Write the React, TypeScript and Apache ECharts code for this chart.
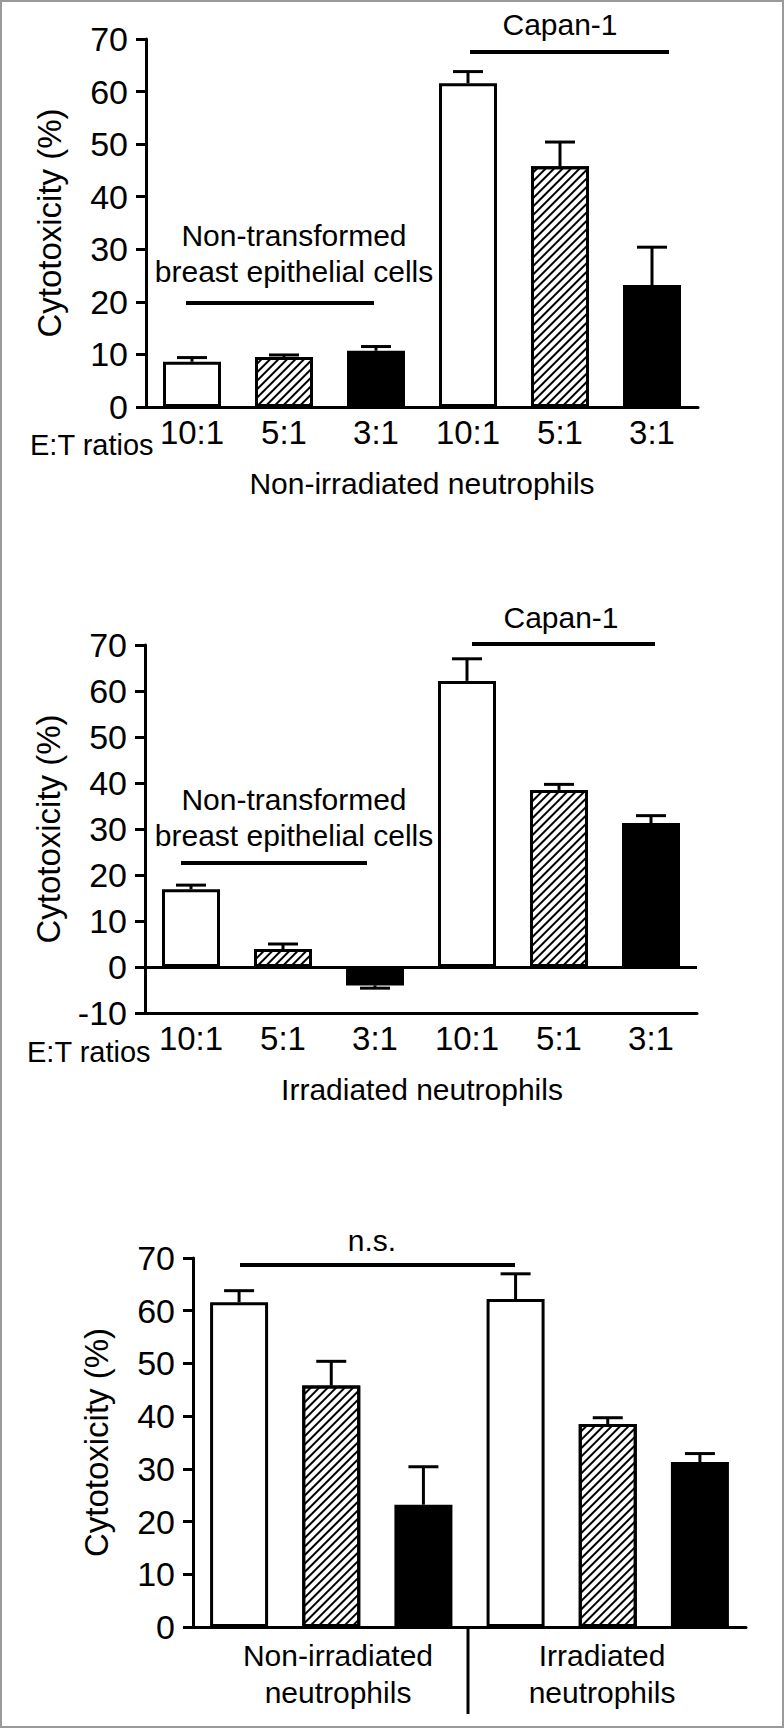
import React, { useEffect, useRef } from "react";
import * as echarts from "echarts";

const FONT = '"Liberation Sans", Arial, Helvetica, sans-serif';

// E:T ratio tick labels for the top two panels
const ET_LABELS = ["10:1", "5:1", "3:1", "10:1", "5:1", "3:1"];
// bar fill style per position
const FILLS = ["white", "hatch", "black", "white", "hatch", "black"];

// Panel A: non-irradiated neutrophils (first three: breast epithelial cells, last three: Capan-1)
const NON_IRR_MEAN = [8.6, 9.5, 10.7, 61.6, 45.8, 23.2];
const NON_IRR_ERR = [0.8, 0.4, 0.8, 2.2, 4.6, 7.2];

// Panel B: irradiated neutrophils
const IRR_MEAN = [16.9, 3.9, -4.0, 62.2, 38.5, 31.3];
const IRR_ERR = [0.9, 1.1, 0.6, 4.8, 1.2, 1.6];

// Panel C: Capan-1 only, non-irradiated vs irradiated
const C_MEAN = [...NON_IRR_MEAN.slice(3), ...IRR_MEAN.slice(3)];
const C_ERR = [...NON_IRR_ERR.slice(3), ...IRR_ERR.slice(3)];

// axis ranges
const Y_MIN = [0, -10, 0];
const Y_MAX = [70, 70, 70];
const Y_STEP = 10;

const Y_NAME = "Cytotoxicity (%)";

function fillStyle(kind: string) {
  const base: any = { borderColor: "#000", borderWidth: 3 };
  if (kind === "black") return { ...base, color: "#000" };
  if (kind === "hatch")
    return {
      ...base,
      color: "#fff",
      decal: {
        symbol: "rect",
        symbolSize: 1,
        color: "#000",
        backgroundColor: "#fff",
        dashArrayX: [1, 0],
        dashArrayY: [1.4, 3.2],
        rotation: -Math.PI / 4,
      },
    };
  return { ...base, color: "#fff" };
}

function barData(means: number[]) {
  return means.map((v, i) => ({ value: v, itemStyle: fillStyle(FILLS[i]) }));
}

function errData(means: number[], errs: number[]) {
  return means.map((m, i) => [i, m, errs[i]]);
}

function renderErr(params: any, api: any) {
  const i = api.value(0);
  const m = api.value(1);
  const e = api.value(2);
  const dir = m < 0 ? -1 : 1;
  const p0 = api.coord([i, m]);
  const p1 = api.coord([i, m + dir * e]);
  const hw = 15;
  return {
    type: "group",
    children: [
      {
        type: "line",
        shape: { x1: p0[0], y1: p0[1], x2: p1[0], y2: p1[1] },
        style: { stroke: "#000", lineWidth: 3 },
      },
      {
        type: "line",
        shape: { x1: p1[0] - hw, y1: p1[1], x2: p1[0] + hw, y2: p1[1] },
        style: { stroke: "#000", lineWidth: 3 },
      },
    ],
  };
}

function txt(x: number, y: number, s: string, align = "center", size = 30) {
  return {
    type: "text",
    x,
    y,
    style: {
      text: s,
      fontSize: size,
      fontFamily: FONT,
      fill: "#000",
      align,
      verticalAlign: "middle",
      textAlign: align,
      textVerticalAlign: "middle",
    },
  };
}

function hline(x1: number, x2: number, y: number, w = 4) {
  return {
    type: "line",
    shape: { x1, y1: y, x2, y2: y },
    style: { stroke: "#000", lineWidth: w },
  };
}

export default function App() {
  const ref = useRef<HTMLDivElement>(null);

  useEffect(() => {
    document.body.style.margin = "0";
    const chart = echarts.init(ref.current!, null, { renderer: "svg" });

    const grids = [
      { left: 146, top: 39, width: 552, height: 368 },
      { left: 145, top: 645, width: 552, height: 368 },
      { left: 193, top: 1258, width: 553, height: 369 },
    ];

    const xAxes = [0, 1, 2].map((g) => ({
      type: "category",
      gridIndex: g,
      data: [0, 1, 2, 3, 4, 5].map(String),
      boundaryGap: true,
      axisLine: { onZero: false, lineStyle: { color: "#000", width: 3 } },
      axisTick: { show: false },
      axisLabel: {
        show: g < 2,
        interval: 0,
        margin: 9,
        fontSize: 33,
        color: "#000",
        fontFamily: FONT,
        formatter: (_v: string, idx: number) => ET_LABELS[idx],
      },
      splitLine: { show: false },
    }));

    const yAxes = [0, 1, 2].map((g) => ({
      type: "value",
      gridIndex: g,
      min: Y_MIN[g],
      max: Y_MAX[g],
      interval: Y_STEP,
      name: Y_NAME,
      nameLocation: "middle",
      nameGap: 80,
      nameTextStyle: { fontSize: 33, color: "#000", fontFamily: FONT },
      axisLine: { show: true, lineStyle: { color: "#000", width: 3 } },
      axisTick: { show: true, length: 10, lineStyle: { color: "#000", width: 3 } },
      axisLabel: { fontSize: 34, color: "#000", fontFamily: FONT, margin: 18 },
      splitLine: { show: false },
    }));

    const panels = [
      { means: NON_IRR_MEAN, errs: NON_IRR_ERR },
      { means: IRR_MEAN, errs: IRR_ERR },
      { means: C_MEAN, errs: C_ERR },
    ];

    const series: any[] = [];
    panels.forEach((p, g) => {
      const bar: any = {
        type: "bar",
        xAxisIndex: g,
        yAxisIndex: g,
        barWidth: 58,
        data: barData(p.means),
        z: 2,
      };
      if (Y_MIN[g] < 0) {
        bar.markLine = {
          silent: true,
          symbol: "none",
          label: { show: false },
          lineStyle: { color: "#000", width: 3, type: "solid" },
          data: [{ yAxis: 0 }],
        };
      }
      series.push(bar);
      series.push({
        type: "custom",
        xAxisIndex: g,
        yAxisIndex: g,
        data: errData(p.means, p.errs),
        encode: { x: 0, y: 1 },
        renderItem: renderErr,
        z: 3,
      });
    });

    const graphic: any[] = [
      {
        type: "rect",
        shape: { x: 1, y: 1, width: 782, height: 1726 },
        style: { fill: "none", stroke: "#9a9a9a", lineWidth: 2 },
        z: -1,
      },
      // panel A annotations
      txt(560, 24, "Capan-1"),
      hline(470, 669, 52),
      txt(294, 235, "Non-transformed"),
      txt(294, 271, "breast epithelial cells"),
      hline(186, 374, 303),
      txt(30, 445, "E:T ratios", "left", 29),
      txt(422, 483, "Non-irradiated neutrophils"),
      // panel B annotations
      txt(561, 617, "Capan-1"),
      hline(472, 655, 644),
      txt(294, 799, "Non-transformed"),
      txt(294, 835, "breast epithelial cells"),
      hline(181, 367, 863),
      txt(27, 1052, "E:T ratios", "left", 29),
      txt(422, 1089, "Irradiated neutrophils"),
      // panel C annotations
      txt(372, 1240, "n.s."),
      hline(240, 515, 1265),
      txt(338, 1655, "Non-irradiated"),
      txt(338, 1692, "neutrophils"),
      txt(602, 1655, "Irradiated"),
      txt(602, 1692, "neutrophils"),
      {
        type: "line",
        shape: { x1: 468, y1: 1627, x2: 468, y2: 1714 },
        style: { stroke: "#000", lineWidth: 3 },
      },
    ];

    chart.setOption({
      animation: false,
      backgroundColor: "#fff",
      grid: grids,
      xAxis: xAxes,
      yAxis: yAxes,
      series,
      graphic,
    });

    return () => chart.dispose();
  }, []);

  return <div ref={ref} style={{ width: 784, height: 1728 }} />;
}
